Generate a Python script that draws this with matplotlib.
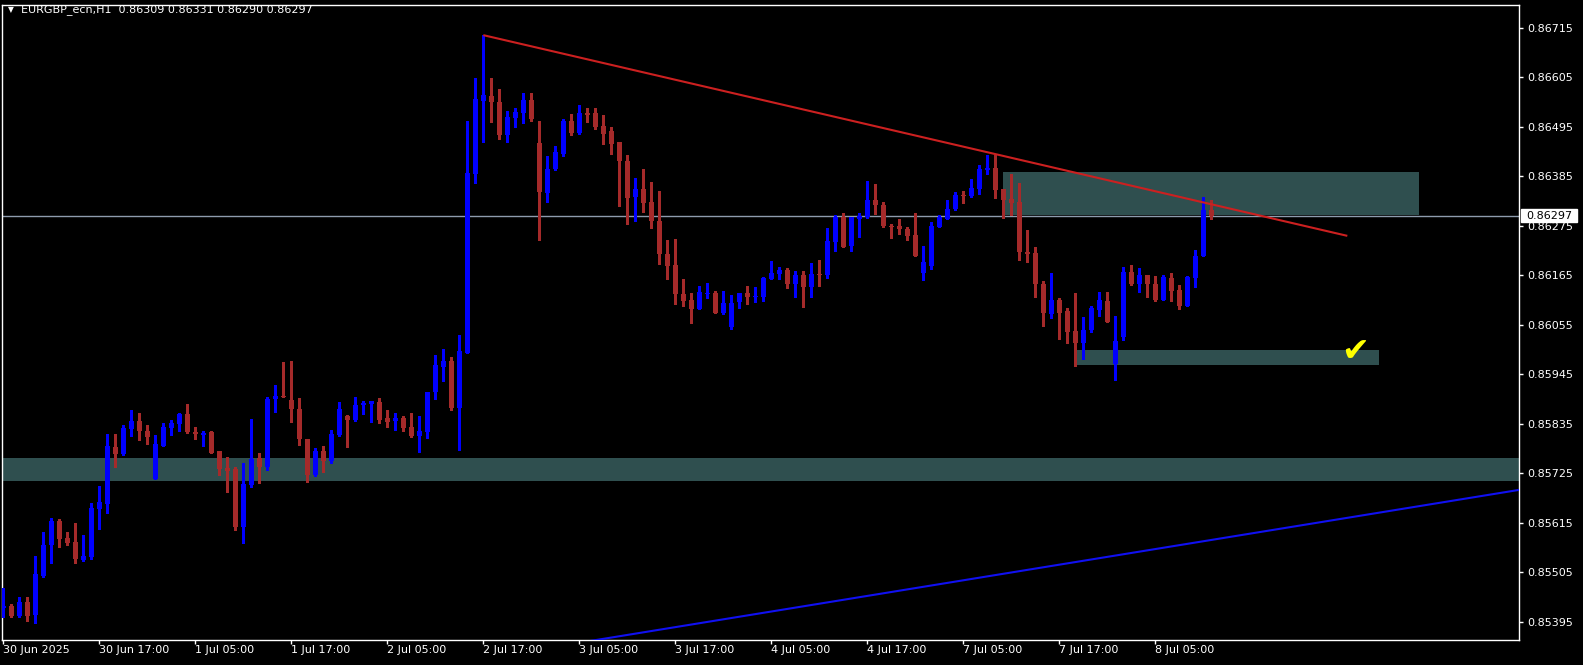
import matplotlib
matplotlib.use("Agg")
import matplotlib.pyplot as plt
import matplotlib.transforms as mtransforms
from matplotlib.patches import Rectangle
import numpy as np

# ---------------- data ----------------
symbol = "EURGBP_ecn,H1"
last_ohlc = ["0.86309", "0.86331", "0.86290", "0.86297"]

opens = [0.85424, 0.85430, 0.85407, 0.85438, 0.85410, 0.85496, 0.85564, 0.85618, 0.85581, 0.85572,
         0.85532, 0.85538, 0.85644, 0.85657, 0.85783, 0.85767, 0.85823, 0.85841, 0.85818, 0.85712,
         0.85785, 0.85825, 0.85835, 0.85856, 0.85816, 0.85810, 0.85816, 0.85774, 0.85736, 0.85734,
         0.85605, 0.85698, 0.85758, 0.85738, 0.85890, 0.85896, 0.85887, 0.85867, 0.85801, 0.85721,
         0.85774, 0.85752, 0.85810, 0.85852, 0.85843, 0.85876, 0.85879, 0.85883, 0.85847, 0.85841,
         0.85847, 0.85827, 0.85807, 0.85816, 0.85904, 0.85961, 0.85974, 0.85870, 0.85992, 0.86390,
         0.86552, 0.86563, 0.86550, 0.86477, 0.86514, 0.86525, 0.86554, 0.86458, 0.86347, 0.86401,
         0.86434, 0.86507, 0.86481, 0.86525, 0.86525, 0.86496, 0.86485, 0.86461, 0.86418, 0.86338,
         0.86356, 0.86327, 0.86285, 0.86212, 0.86187, 0.86123, 0.86109, 0.86089, 0.86123, 0.86125,
         0.86081, 0.86049, 0.86105, 0.86125, 0.86117, 0.86116, 0.86156, 0.86167, 0.86176, 0.86145,
         0.86165, 0.86138, 0.86167, 0.86165, 0.86238, 0.86294, 0.86230, 0.86290, 0.86294, 0.86332,
         0.86321, 0.86274, 0.86274, 0.86267, 0.86254, 0.86170, 0.86185, 0.86272, 0.86290, 0.86312,
         0.86343, 0.86341, 0.86356, 0.86398, 0.86403, 0.86356, 0.86334, 0.86327, 0.86216, 0.86214,
         0.86145, 0.86078, 0.86109, 0.86085, 0.86041, 0.86015, 0.86043, 0.86087, 0.86107, 0.85967,
         0.86027, 0.86172, 0.86145, 0.86165, 0.86145, 0.86110, 0.86158, 0.86132, 0.86096, 0.86158,
         0.86207, 0.86309]

highs = [0.85470, 0.85435, 0.85450, 0.85450, 0.85541, 0.85594, 0.85625, 0.85623, 0.85594, 0.85614,
         0.85587, 0.85658, 0.85697, 0.85812, 0.85812, 0.85832, 0.85864, 0.85858, 0.85832, 0.85810,
         0.85836, 0.85843, 0.85858, 0.85878, 0.85827, 0.85818, 0.85818, 0.85774, 0.85761, 0.85738,
         0.85747, 0.85845, 0.85770, 0.85894, 0.85921, 0.85972, 0.85974, 0.85892, 0.85801, 0.85781,
         0.85785, 0.85821, 0.85883, 0.85854, 0.85894, 0.85885, 0.85885, 0.85892, 0.85865, 0.85858,
         0.85852, 0.85858, 0.85852, 0.85905, 0.85987, 0.86001, 0.85983, 0.86032, 0.86507, 0.86603,
         0.86698, 0.86603, 0.86578, 0.86530, 0.86536, 0.86570, 0.86570, 0.86507, 0.86430, 0.86452,
         0.86512, 0.86523, 0.86543, 0.86536, 0.86536, 0.86521, 0.86494, 0.86461, 0.86432, 0.86381,
         0.86401, 0.86372, 0.86352, 0.86243, 0.86245, 0.86156, 0.86125, 0.86141, 0.86147, 0.86129,
         0.86129, 0.86121, 0.86125, 0.86141, 0.86138, 0.86161, 0.86196, 0.86183, 0.86181, 0.86174,
         0.86174, 0.86192, 0.86198, 0.86270, 0.86298, 0.86303, 0.86294, 0.86303, 0.86374, 0.86367,
         0.86327, 0.86278, 0.86290, 0.86272, 0.86303, 0.86230, 0.86283, 0.86298, 0.86332, 0.86350,
         0.86352, 0.86378, 0.86410, 0.86432, 0.86432, 0.86356, 0.86390, 0.86369, 0.86265, 0.86227,
         0.86152, 0.86169, 0.86114, 0.86092, 0.86125, 0.86072, 0.86096, 0.86127, 0.86127, 0.86074,
         0.86183, 0.86187, 0.86181, 0.86165, 0.86163, 0.86165, 0.86170, 0.86143, 0.86163, 0.86221,
         0.86338, 0.86331]

lows = [0.85406, 0.85404, 0.85404, 0.85396, 0.85391, 0.85494, 0.85526, 0.85561, 0.85564, 0.85526,
        0.85530, 0.85533, 0.85601, 0.85636, 0.85738, 0.85765, 0.85808, 0.85799, 0.85790, 0.85712,
        0.85785, 0.85810, 0.85818, 0.85814, 0.85801, 0.85785, 0.85770, 0.85721, 0.85683, 0.85598,
        0.85570, 0.85693, 0.85703, 0.85732, 0.85861, 0.85893, 0.85838, 0.85787, 0.85705, 0.85718,
        0.85728, 0.85747, 0.85807, 0.85783, 0.85841, 0.85856, 0.85838, 0.85836, 0.85827, 0.85821,
        0.85818, 0.85805, 0.85772, 0.85803, 0.85890, 0.85930, 0.85864, 0.85777, 0.85992, 0.86370,
        0.86461, 0.86505, 0.86468, 0.86461, 0.86495, 0.86503, 0.86507, 0.86243, 0.86327, 0.86398,
        0.86430, 0.86476, 0.86478, 0.86505, 0.86490, 0.86456, 0.86434, 0.86318, 0.86278, 0.86285,
        0.86305, 0.86269, 0.86189, 0.86156, 0.86101, 0.86096, 0.86058, 0.86089, 0.86114, 0.86081,
        0.86078, 0.86045, 0.86092, 0.86101, 0.86105, 0.86107, 0.86156, 0.86156, 0.86136, 0.86116,
        0.86094, 0.86116, 0.86141, 0.86158, 0.86218, 0.86227, 0.86218, 0.86250, 0.86292, 0.86301,
        0.86272, 0.86247, 0.86256, 0.86243, 0.86207, 0.86154, 0.86178, 0.86272, 0.86290, 0.86310,
        0.86325, 0.86338, 0.86345, 0.86390, 0.86336, 0.86292, 0.86298, 0.86198, 0.86194, 0.86116,
        0.86052, 0.86069, 0.86023, 0.86014, 0.85963, 0.85978, 0.86038, 0.86074, 0.86061, 0.85932,
        0.86021, 0.86143, 0.86127, 0.86116, 0.86107, 0.86110, 0.86107, 0.86090, 0.86096, 0.86138,
        0.86207, 0.86290]

closes = [0.85430, 0.85407, 0.85438, 0.85407, 0.85501, 0.85565, 0.85618, 0.85578, 0.85570, 0.85534,
          0.85541, 0.85647, 0.85661, 0.85785, 0.85767, 0.85825, 0.85841, 0.85818, 0.85805, 0.85790,
          0.85827, 0.85836, 0.85856, 0.85816, 0.85812, 0.85814, 0.85770, 0.85734, 0.85730, 0.85605,
          0.85701, 0.85756, 0.85738, 0.85890, 0.85896, 0.85894, 0.85867, 0.85801, 0.85721, 0.85774,
          0.85752, 0.85812, 0.85867, 0.85843, 0.85876, 0.85881, 0.85884, 0.85843, 0.85838, 0.85847,
          0.85825, 0.85807, 0.85818, 0.85905, 0.85965, 0.85974, 0.85870, 0.85996, 0.86392, 0.86556,
          0.86565, 0.86550, 0.86477, 0.86516, 0.86527, 0.86554, 0.86512, 0.86350, 0.86401, 0.86438,
          0.86507, 0.86481, 0.86525, 0.86521, 0.86494, 0.86478, 0.86456, 0.86418, 0.86336, 0.86356,
          0.86325, 0.86285, 0.86212, 0.86185, 0.86123, 0.86107, 0.86089, 0.86127, 0.86125, 0.86081,
          0.86103, 0.86103, 0.86125, 0.86116, 0.86119, 0.86158, 0.86169, 0.86176, 0.86145, 0.86165,
          0.86138, 0.86167, 0.86165, 0.86241, 0.86294, 0.86227, 0.86294, 0.86296, 0.86332, 0.86321,
          0.86274, 0.86272, 0.86267, 0.86252, 0.86207, 0.86194, 0.86274, 0.86294, 0.86312, 0.86343,
          0.86341, 0.86358, 0.86401, 0.86403, 0.86354, 0.86332, 0.86325, 0.86216, 0.86212, 0.86145,
          0.86081, 0.86109, 0.86081, 0.86038, 0.86014, 0.86043, 0.86092, 0.86110, 0.86061, 0.86018,
          0.86172, 0.86145, 0.86165, 0.86145, 0.86110, 0.86161, 0.86130, 0.86096, 0.86161, 0.86207,
          0.86310, 0.86297]

time_labels = ["30 Jun 2025", "30 Jun 17:00", "1 Jul 05:00", "1 Jul 17:00", "2 Jul 05:00",
               "2 Jul 17:00", "3 Jul 05:00", "3 Jul 17:00", "4 Jul 05:00", "4 Jul 17:00",
               "7 Jul 05:00", "7 Jul 17:00", "8 Jul 05:00"]
bars_per_label = 12
price_ticks = [0.86715, 0.86605, 0.86495, 0.86385, 0.86275, 0.86165, 0.86055,
               0.85945, 0.85835, 0.85725, 0.85615, 0.85505, 0.85395]
current_price = 0.86297

# trend lines: (bar index, price) anchors
red_line_bars = [60, 168]
red_line_prices = [0.86698, 0.86252]
blue_line_bars = [70, 190]
blue_line_prices = [0.85342, 0.85689]

# zones: (bar start, bar end, price low, price high)
zone_wide = (0.85707, 0.85758)
zone_upper = (125, 177, 0.86298, 0.86394)
zone_lower = (134, 172, 0.85965, 0.85998)
check_mark = (169, 0.85995)

# ---------------- styling ----------------
BULL = "#0000ff"
BEAR = "#a52a2a"
ZONE = "#2f4f4f"
FONT = 8

W, H = 1583, 665
fig = plt.figure(figsize=(W / 100, H / 100), dpi=100, facecolor="black")
ax = fig.add_axes([2 / W, 25 / H, 1517 / W, 635 / H], facecolor="black")

o = np.array(opens); h = np.array(highs); l = np.array(lows); c = np.array(closes)
x = np.arange(len(o))
colors = [BULL if cc > oo else BEAR for oo, cc in zip(o, c)]

# zones
ax.axhspan(zone_wide[0], zone_wide[1], color=ZONE, lw=0, zorder=1)
for z in (zone_upper, zone_lower):
    ax.add_patch(Rectangle((z[0], z[2]), z[1] - z[0], z[3] - z[2],
                           facecolor=ZONE, edgecolor="none", zorder=1))

# current price line
ax.axhline(current_price, color="#8e9bad", lw=1.0, zorder=2)

# candles
ax.vlines(x, l, h, colors=colors, linewidth=0.8, zorder=3, antialiased=False)
body_low = np.minimum(o, c)
body_h = np.maximum(np.abs(c - o), 0.000022)
ax.bar(x, body_h, bottom=body_low, width=0.68, color=colors, linewidth=0,
       zorder=4, antialiased=False)

# trend lines
ax.plot(red_line_bars, red_line_prices, color="#cc2020", lw=1.5, zorder=5,
        solid_capstyle="butt")
ax.plot(blue_line_bars, blue_line_prices, color="#1010f0", lw=1.5, zorder=5)

# check mark
ax.text(check_mark[0], check_mark[1], "\u2714", color="#ffff00", fontsize=24,
        ha="center", va="center", zorder=6)

# limits
ax.set_xlim(-0.1625, 189.46)
ax.set_ylim(0.853539, 0.86765)

# spines
for s in ax.spines.values():
    s.set_color("white")
    s.set_linewidth(1)

# y axis on right
ax.yaxis.tick_right()
ax.set_yticks(price_ticks)
ax.set_yticklabels([f"{p:.5f}" for p in price_ticks])
ax.tick_params(axis="y", colors="white", labelcolor="white", labelsize=FONT,
               length=3, width=1, direction="out", pad=3)

# x axis
xt = [i * bars_per_label for i in range(len(time_labels))]
ax.set_xticks(xt)
ax.set_xticklabels(time_labels)
ax.tick_params(axis="x", colors="white", labelcolor="white", labelsize=FONT,
               length=3, width=1, direction="out", pad=0.5)
for lab in ax.get_xticklabels():
    lab.set_ha("left")

# current price label box
blend = mtransforms.blended_transform_factory(ax.transAxes, ax.transData)
px_price = (0.86765 - 0.853539) / 635.0
ax.add_patch(Rectangle((1 + 2 / 1517, current_price - 6.3 * px_price), 56 / 1517, 12.7 * px_price,
                       transform=blend, facecolor="white", edgecolor="white",
                       clip_on=False, zorder=10))
ax.text(1 + 7 / 1517, current_price, f"{current_price:.5f}", transform=blend,
        color="black", fontsize=FONT, ha="left", va="center", zorder=11, clip_on=False)

# title
fig.text(11 / W, 1 - 10 / H, "\u25BC", color="white", fontsize=5.5, ha="center", va="center")
fig.text(21 / W, 1 - 10 / H, symbol + "  " + " ".join(last_ohlc), color="white",
         fontsize=FONT, ha="left", va="center")

fig.savefig("out.png", dpi=100, facecolor="black")
